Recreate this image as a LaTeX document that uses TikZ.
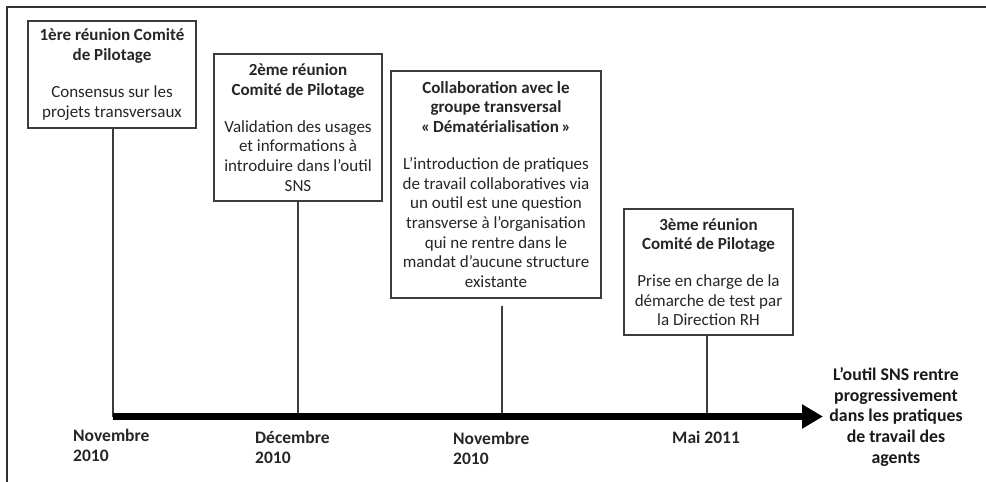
\documentclass[tikz,border=0pt]{standalone}
\usepackage{fontspec}
\setmainfont{Carlito}
\usetikzlibrary{arrows.meta}
\definecolor{txt}{RGB}{38,38,38}
\definecolor{edge}{RGB}{60,60,60}
\newcommand\hd[1]{\textbf{#1}}
\tikzset{
  box/.style={draw=edge, line width=1.4pt, align=center, inner sep=0pt, text=txt},
  tick/.style={draw=edge, line width=1.2pt},
  frame/.style={draw=edge!80!black, line width=1.5pt},
  axisline/.style={line width=7.5pt, black, -{Triangle[length=21pt,width=23pt]}},
  datelbl/.style={anchor=north west, align=left, inner sep=0pt, text=txt, font=\fontsize{17.5}{20.5}\selectfont\bfseries},
  finallbl/.style={align=center, inner sep=0pt, text=black!90, font=\fontsize{17.8}{20.6}\selectfont\bfseries}
}
\begin{document}
\begin{tikzpicture}[x=1pt,y=-1pt, font=\fontsize{17}{19.7}\selectfont]
\useasboundingbox (0,0) rectangle (986,482);
\fill[white] (0,0) rectangle (986,482);
% frame
\coordinate (fbl) at (7,482);
\coordinate (ftl) at (7,7);
\coordinate (ftr) at (986,7);
\draw[frame] (fbl) -- (ftl) -- (ftr);
% boxes
\node[box, minimum width=168pt, minimum height=107pt] (b1) at (112,74.5)
  {\hd{1ère réunion Comité}\\\hd{de Pilotage}\\[17pt]Consensus sur les\\projets transversaux};
\node[box, minimum width=168pt, minimum height=147pt] (b2) at (298,127.5)
  {\hd{2ème réunion}\\\hd{Comité de Pilotage}\\[17pt]Validation des usages\\et informations à\\introduire dans l'outil\\SNS};
\node[box, minimum width=210pt, minimum height=227pt] (b3) at (496,184.5)
  {\hd{Collaboration avec le}\\\hd{groupe transversal}\\\hd{«\,Dématérialisation\,»}\\[17pt]L’introduction de pratiques\\de travail collaboratives via\\un outil est une question\\transverse à l’organisation\\qui ne rentre dans le\\mandat d’aucune structure\\existante};
\node[box, minimum width=169pt, minimum height=126pt] (b4) at (708.5,272)
  {\hd{3ème réunion}\\\hd{Comité de Pilotage}\\[17pt]Prise en charge de la\\démarche de test par\\la Direction RH};
% axis points
\coordinate (t1) at (113,416.5);
\coordinate (t2) at (298,416.5);
\coordinate (t3) at (502,416.5);
\coordinate (t4) at (707,416.5);
\coordinate (tend) at (823,416.5);
\draw[tick] (t1 |- b1.south) -- (t1);
\draw[tick] (t2 |- b2.south) -- (t2);
\draw[tick, shorten <=7pt] (t3 |- b3.south) -- (t3);
\draw[tick] (t4 |- b4.south) -- (t4);
\draw[axisline] (t1) -- (tend);
% dates
\node[datelbl] (d1) at (73,429) {Novembre\\2010};
\node[datelbl] (d2) at (255,431) {Décembre\\2010};
\node[datelbl] (d3) at (453,432) {Novembre\\2010};
\node[datelbl] (d4) at (672,431) {Mai 2011};
% final text
\node[finallbl] (fin) at (896,417) {L’outil SNS rentre\\progressivement\\dans les pratiques\\de travail des\\agents};
\end{tikzpicture}
\end{document}
